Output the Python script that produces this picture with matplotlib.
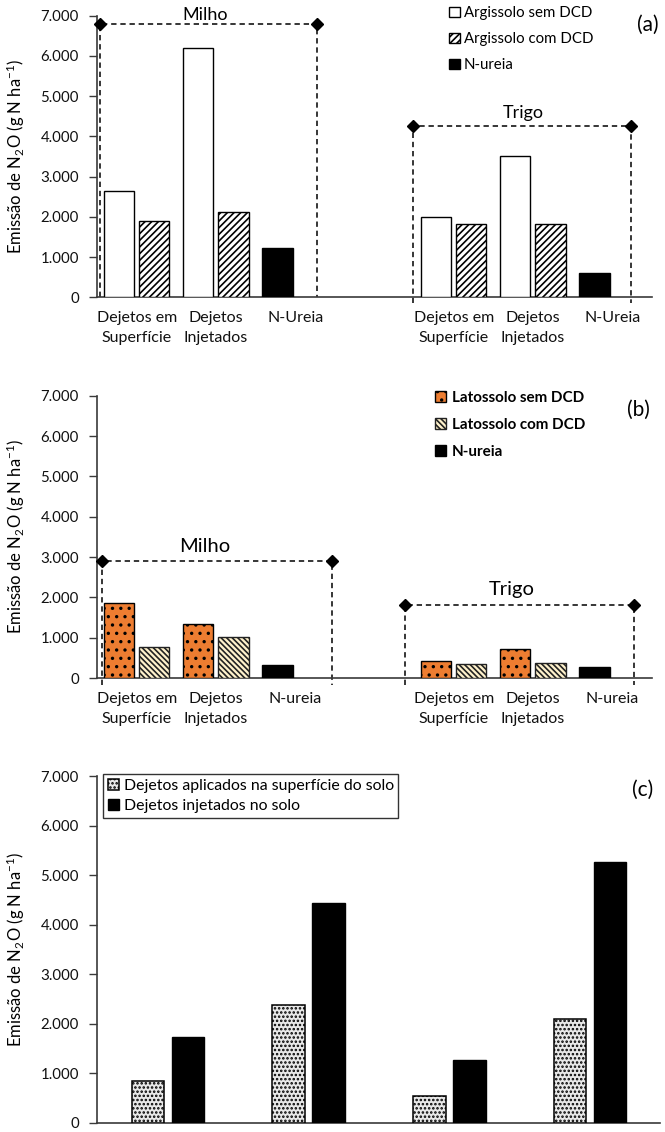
import matplotlib
matplotlib.use("Agg")
import matplotlib.pyplot as plt
import matplotlib.ticker as mticker
import numpy as np

plt.rcParams['font.family'] = ['Lato', 'DejaVu Sans']
plt.rcParams['mathtext.default'] = 'regular'
plt.rcParams['hatch.linewidth'] = 1.2

# categorias dos paineis (a) e (b): Milho (0-2), vazio (3), Trigo (4-6)
cat_ab_a = ['Dejetos em\nSuperfície', 'Dejetos\nInjetados', 'N-Ureia', '',
            'Dejetos em\nSuperfície', 'Dejetos\nInjetados', 'N-Ureia']
cat_ab_b = ['Dejetos em\nSuperfície', 'Dejetos\nInjetados', 'N-ureia', '',
            'Dejetos em\nSuperfície', 'Dejetos\nInjetados', 'N-ureia']
pos_dejetos = [0, 1, 4, 5]
pos_ureia = [2, 6]

# (a) Argissolo
arg_sem = [2640, 6190, 1990, 3520]
arg_com = [1890, 2110, 1810, 1810]
arg_ureia = [1215, 600]

# (b) Latossolo
lat_sem = [1870, 1340, 410, 710]
lat_com = [780, 1010, 340, 380]
lat_ureia = [310, 270]

# (c) superficie x injetado
pos_c = [0, 1, 2, 3]
dej_superf = [840, 2390, 550, 2100]
dej_inj = [1740, 4430, 1280, 5270]

# caixas tracejadas (x inicial, x final, altura)
box_a_milho = [-0.46, 2.27, 6800]
box_a_trigo = [3.49, 6.24, 4250]
box_b_milho = [-0.44, 2.47, 2900]
box_b_trigo = [3.38, 6.27, 1800]

ylabel = 'Emissão de N$_2$O (g N ha$^{-1}$)'
axcol = '#3a3a3a'

W, H = 665, 1132
fig = plt.figure(figsize=(W / 100, H / 100), dpi=100)
ax_a = fig.add_axes([97 / W, 1 - 297.3 / H, 555 / W, 281.6 / H])
ax_b = fig.add_axes([97 / W, 1 - 678 / H, 555 / W, 282.3 / H])
ax_c = fig.add_axes([97 / W, 1 - 1123 / H, 563 / W, 347 / H])


def fmt(v, p):
    return f"{int(v):,}".replace(",", ".")


def style(ax, ncat):
    ax.set_ylim(0, 7000)
    ax.set_xlim(-0.5, ncat - 0.5)
    ax.yaxis.set_major_locator(mticker.MultipleLocator(1000))
    ax.yaxis.set_major_formatter(mticker.FuncFormatter(fmt))
    for s in ['top', 'right']:
        ax.spines[s].set_visible(False)
    for s in ['left', 'bottom']:
        ax.spines[s].set_color(axcol)
        ax.spines[s].set_linewidth(1.2)
    ax.tick_params(axis='y', length=6, width=1, color=axcol, pad=7,
                   labelsize=10.8, labelcolor='#111111')
    ax.tick_params(axis='x', length=0, pad=10, labelsize=11.5,
                   labelcolor='#111111')
    ax.set_ylabel(ylabel, fontsize=12)
    wpx = ax.get_position().width * W
    ax.yaxis.set_label_coords(-70 / wpx, 0.5)


def draw_box(ax, box, bottom):
    x0, x1, top = box
    ax.plot([x0, x0, x1, x1], [bottom, top, top, bottom], ls=(0, (3.5, 2.5)),
            color='black', lw=1.1, clip_on=False, zorder=1)
    ax.plot([x0, x1], [top, top], ls='none', marker='D', ms=6,
            color='black', clip_on=False, zorder=4)


w = 0.385
off_sem = -0.225
off_com = 0.22
pd = np.array(pos_dejetos)
pu = np.array(pos_ureia)

# ---- (a)
style(ax_a, 7)
ax_a.bar(pd + off_sem, arg_sem, w, color='white', edgecolor='black',
         lw=1, zorder=3, label='Argissolo sem DCD')
ax_a.bar(pd + off_com, arg_com, w, color='white', edgecolor='black',
         lw=1, hatch='/////', zorder=3, label='Argissolo com DCD')
ax_a.bar(pu + off_sem, arg_ureia, w, color='black', edgecolor='black',
         lw=1, zorder=3, label='N-ureia')
ax_a.set_xticks(range(7))
ax_a.set_xticklabels(cat_ab_a, linespacing=1.55)
draw_box(ax_a, box_a_milho, 0)
draw_box(ax_a, box_a_trigo, -150)
ax_a.text(0.86, 7020, 'Milho', ha='center', va='center', fontsize=13,
          clip_on=False)
ax_a.text(4.87, 4590, 'Trigo', ha='center', va='center', fontsize=13)
ax_a.legend(loc='upper left', bbox_to_anchor=(449 / W, 1 - 6 / H),
            bbox_transform=fig.transFigure, frameon=False, fontsize=10.8,
            handlelength=0.7, handleheight=0.7, handletextpad=0.3,
            labelspacing=0.8, borderpad=0, borderaxespad=0)

# ---- (b)
style(ax_b, 7)
ax_b.bar(pd + off_sem, lat_sem, w, color='#ED7D31', edgecolor='black',
         lw=1, hatch='..', zorder=3, label='Latossolo sem DCD')
ax_b.bar(pd + off_com, lat_com, w, color='#FFF2CC', edgecolor='#222222',
         lw=1, hatch='\\\\\\\\\\\\', zorder=3, label='Latossolo com DCD')
ax_b.bar(pu + off_sem, lat_ureia, w, color='black', edgecolor='black',
         lw=1, zorder=3, label='N-ureia')
ax_b.set_xticks(range(7))
ax_b.set_xticklabels(cat_ab_b, linespacing=1.55)
draw_box(ax_b, box_b_milho, -180)
draw_box(ax_b, box_b_trigo, -180)
ax_b.text(0.86, 3250, 'Milho', ha='center', va='center', fontsize=14.5)
ax_b.text(4.73, 2200, 'Trigo', ha='center', va='center', fontsize=14.5)
ax_b.legend(loc='upper left', bbox_to_anchor=(435 / W, 1 - 391 / H),
            bbox_transform=fig.transFigure, frameon=False,
            prop={'size': 10.9, 'weight': 'bold'},
            handlelength=0.7, handleheight=0.7, handletextpad=0.4,
            labelspacing=0.85, borderpad=0, borderaxespad=0)

# ---- (c)
style(ax_c, 4)
pc = np.array(pos_c)
wc = 0.231
ax_c.bar(pc - 0.138, dej_superf, wc, color='#E8E8E8', edgecolor='black',
         lw=1.1, hatch='....', zorder=3,
         label='Dejetos aplicados na superfície do solo')
ax_c.bar(pc + 0.146, dej_inj, wc, color='black', edgecolor='black',
         lw=1, zorder=3, label='Dejetos injetados no solo')
ax_c.set_xticks([])
ax_c.legend(loc='upper left', bbox_to_anchor=(103 / W, 1 - 774 / H),
            bbox_transform=fig.transFigure, frameon=True, fancybox=False,
            edgecolor='black', fontsize=11.4, handlelength=0.7,
            handleheight=0.7, handletextpad=0.3, labelspacing=0.4,
            borderpad=0.3, borderaxespad=0)
ax_c.get_legend().get_frame().set_linewidth(1.0)

fig.text(648 / W, 1 - 25 / H, '(a)', ha='center', va='center', fontsize=15)
fig.text(638 / W, 1 - 410 / H, '(b)', ha='center', va='center', fontsize=15)
fig.text(643 / W, 1 - 790 / H, '(c)', ha='center', va='center', fontsize=15)

fig.savefig('out.png', dpi=100)
